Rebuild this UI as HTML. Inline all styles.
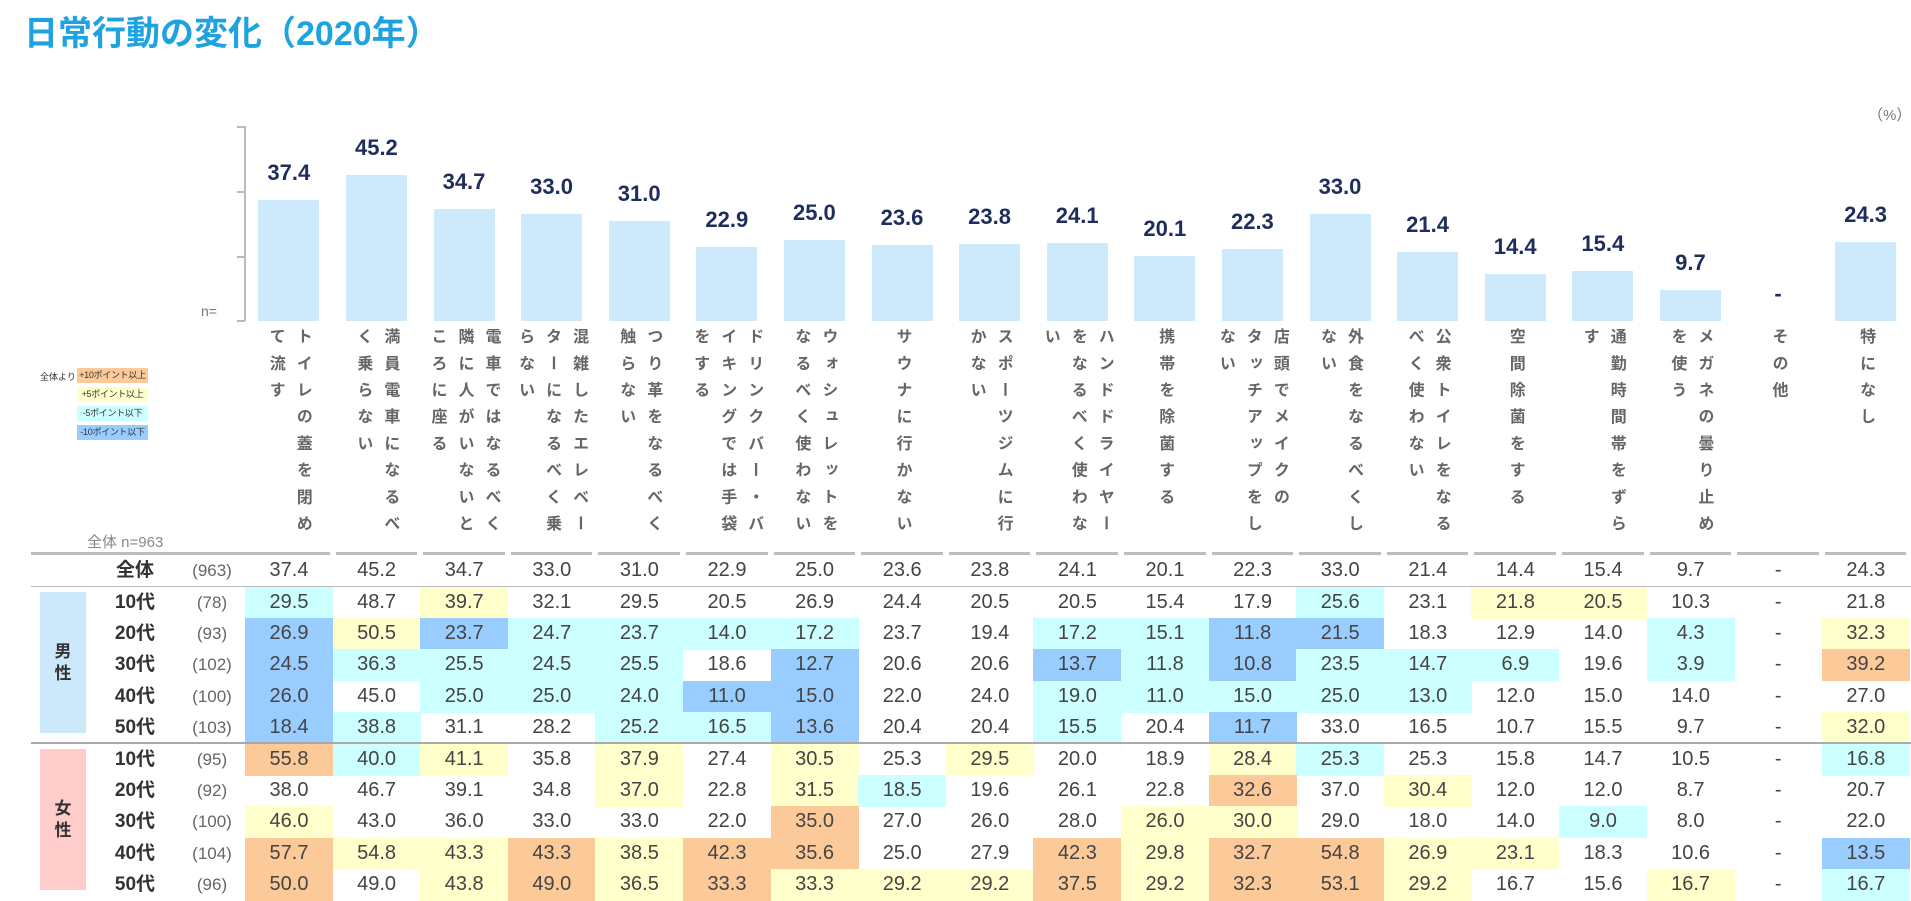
<!DOCTYPE html>
<html><head><meta charset="utf-8">
<style>
html,body{margin:0;padding:0;background:#fff;}
body{width:1911px;height:901px;position:relative;overflow:hidden;font-family:"Liberation Sans","Noto Sans CJK JP",sans-serif;}
.a{position:absolute;}
.title{left:24px;top:6px;font-size:34px;font-weight:bold;color:#1ea3e0;white-space:nowrap;}
.bar{position:absolute;background:#cdeafc;width:61px;}
.bv{position:absolute;width:88px;text-align:center;font-size:22px;font-weight:bold;color:#1f2d5c;}
.vl{position:absolute;top:328px;writing-mode:vertical-rl;font-size:16px;font-weight:bold;color:#666;letter-spacing:10.7px;line-height:27px;white-space:nowrap;}
.cell{position:absolute;width:88px;height:32px;line-height:31px;text-align:center;font-size:20px;color:#444;}
.rl{position:absolute;left:100px;width:70px;text-align:center;font-size:19px;font-weight:bold;color:#333;line-height:31px;}
.rn{position:absolute;left:180px;width:64px;text-align:center;font-size:17px;color:#666;line-height:31px;}
.seg{position:absolute;top:552px;height:3px;background:#bdbdbd;}
.lg{position:absolute;left:77px;width:71px;height:15px;font-size:9px;line-height:15px;text-align:center;color:#333;white-space:nowrap;overflow:hidden;letter-spacing:-0.3px;}
</style></head><body>
<div class="a title">日常行動の変化（2020年）</div>
<div class="a" style="left:1868px;top:104px;font-size:15px;color:#777;">（%）</div>
<div class="a" style="left:244px;top:126px;width:2px;height:195px;background:#bbb;"></div>
<div class="a" style="left:237px;top:126px;width:8px;height:2px;background:#bbb;"></div>
<div class="a" style="left:237px;top:191px;width:8px;height:2px;background:#bbb;"></div>
<div class="a" style="left:237px;top:256px;width:8px;height:2px;background:#bbb;"></div>
<div class="a" style="left:237px;top:320px;width:8px;height:2px;background:#bbb;"></div>
<div class="a" style="left:201px;top:303px;font-size:14px;color:#777;">n=</div>
<div class="a" style="left:40px;top:370px;font-size:9px;color:#333;white-space:nowrap;">全体より</div>
<div class="lg" style="top:368px;background:#fcc998;">+10ポイント以上</div>
<div class="lg" style="top:387px;background:#ffffcc;">+5ポイント以上</div>
<div class="lg" style="top:406px;background:#ccffff;">-5ポイント以下</div>
<div class="lg" style="top:425px;background:#99ccff;">-10ポイント以下</div>
<div class="a" style="left:87px;top:531px;font-size:15px;color:#888;white-space:nowrap;">全体 n=963</div>
<div class="a" style="left:40px;top:592px;width:46px;height:141px;background:#cce9fb;"></div>
<div class="a" style="left:40px;top:749px;width:46px;height:141px;background:#ffcccc;"></div>
<div class="a" style="left:40px;top:641px;width:46px;text-align:center;font-size:17px;font-weight:bold;color:#333;line-height:22px;">男<br>性</div>
<div class="a" style="left:40px;top:798px;width:46px;text-align:center;font-size:17px;font-weight:bold;color:#333;line-height:22px;">女<br>性</div>
<div id="root"></div>
<script>
(function(){
var X0=245,W=87.6,BASE=321,K=3.24;
var tot=[37.4,45.2,34.7,33.0,31.0,22.9,25.0,23.6,23.8,24.1,20.1,22.3,33.0,21.4,14.4,15.4,9.7,null,24.3];
var labels=[["トイレの蓋を閉め","て流す"],["満員電車になるべ","く乗らない"],["電車ではなるべく","隣に人がいないと","ころに座る"],["混雑したエレベー","ターになるべく乗","らない"],["つり革をなるべく","触らない"],["ドリンクバー・バ","イキングでは手袋","をする"],["ウォシュレットを","なるべく使わない"],["サウナに行かない"],["スポーツジムに行","かない"],["ハンドドライヤー","をなるべく使わな","い"],["携帯を除菌する"],["店頭でメイクの","タッチアップをし","ない"],["外食をなるべくし","ない"],["公衆トイレをなる","べく使わない"],["空間除菌をする"],["通勤時間帯をずら","す"],["メガネの曇り止め","を使う"],["その他"],["特になし"]];
var rows=[
["10代","(78)","29.5c 48.7 39.7y 32.1 29.5 20.5 26.9 24.4 20.5 20.5 15.4 17.9 25.6c 23.1 21.8y 20.5y 10.3 - 21.8"],
["20代","(93)","26.9b 50.5y 23.7b 24.7c 23.7c 14.0c 17.2c 23.7 19.4 17.2c 15.1c 11.8b 21.5b 18.3 12.9 14.0 4.3c - 32.3y"],
["30代","(102)","24.5b 36.3c 25.5c 24.5c 25.5c 18.6 12.7b 20.6 20.6 13.7b 11.8c 10.8b 23.5c 14.7c 6.9c 19.6 3.9c - 39.2o"],
["40代","(100)","26.0b 45.0 25.0c 25.0c 24.0c 11.0b 15.0b 22.0 24.0 19.0c 11.0c 15.0c 25.0c 13.0c 12.0 15.0 14.0 - 27.0"],
["50代","(103)","18.4b 38.8c 31.1 28.2 25.2c 16.5c 13.6b 20.4 20.4 15.5c 20.4 11.7b 33.0 16.5 10.7 15.5 9.7 - 32.0y"],
["10代","(95)","55.8o 40.0c 41.1y 35.8 37.9y 27.4 30.5y 25.3 29.5y 20.0 18.9 28.4y 25.3c 25.3 15.8 14.7 10.5 - 16.8c"],
["20代","(92)","38.0 46.7 39.1 34.8 37.0y 22.8 31.5y 18.5c 19.6 26.1 22.8 32.6o 37.0 30.4y 12.0 12.0 8.7 - 20.7"],
["30代","(100)","46.0y 43.0 36.0 33.0 33.0 22.0 35.0o 27.0 26.0 28.0 26.0y 30.0y 29.0 18.0 14.0 9.0c 8.0 - 22.0"],
["40代","(104)","57.7o 54.8y 43.3y 43.3o 38.5y 42.3o 35.6o 25.0 27.9 42.3o 29.8y 32.7o 54.8o 26.9y 23.1y 18.3 10.6 - 13.5b"],
["50代","(96)","50.0o 49.0 43.8y 49.0o 36.5y 33.3o 33.3y 29.2y 29.2y 37.5o 29.2y 32.3o 53.1o 29.2y 16.7 15.6 16.7y - 16.7c"]];
var col={o:"#fcc998",y:"#ffffcc",c:"#ccffff",b:"#99ccff"};
var h="";
for(var i=0;i<19;i++){
 var l=X0+i*W, cx=l+W/2;
 if(tot[i]!==null){var bh=tot[i]*K;
  h+='<div class="bar" style="left:'+(cx-30.5)+'px;top:'+(BASE-bh)+'px;height:'+bh+'px"></div>';
  h+='<div class="bv" style="left:'+(cx-44)+'px;top:'+(BASE-bh-40)+'px">'+tot[i].toFixed(1)+'</div>';
 } else {
  h+='<div class="bv" style="left:'+(cx-44)+'px;top:'+(BASE-40)+'px">-</div>';
 }
 var n=labels[i].length, w=n*27;
 h+='<div class="vl" style="left:'+(cx-w/2)+'px;width:'+w+'px">'+labels[i].join('<br>')+'</div>';
 if(i==0) h+='<div class="seg" style="left:31px;width:'+(l+W-3-31)+'px"></div>';
 else h+='<div class="seg" style="left:'+(l+3)+'px;width:'+(W-6)+'px"></div>';
 h+='<div class="cell" style="left:'+l+'px;top:555px">'+(tot[i]===null?'-':tot[i].toFixed(1))+'</div>';
}
h+='<div class="rl" style="top:555px">全体</div><div class="rn" style="top:555px">(963)</div>';
h+='<div class="a" style="left:31px;top:586px;width:1880px;height:1px;background:#bbb"></div>';
for(var r=0;r<10;r++){
 var ty=r<5?587+r*31.2:744+(r-5)*31.2;
 var v=rows[r][2].split(" ");
 h+='<div class="rl" style="top:'+ty+'px">'+rows[r][0]+'</div><div class="rn" style="top:'+ty+'px">'+rows[r][1]+'</div>';
 for(var i=0;i<19;i++){
  var s=v[i],c=s.slice(-1),bg="";
  if(col[c]){bg='background:'+col[c]+';';s=s.slice(0,-1);}
  h+='<div class="cell" style="left:'+(X0+i*W)+'px;top:'+ty+'px;'+bg+'">'+s+'</div>';
 }
}
h+='<div class="a" style="left:31px;top:742px;width:1880px;height:2px;background:#aaa"></div>';
document.getElementById('root').innerHTML=h;
})();
</script>
</body></html>
